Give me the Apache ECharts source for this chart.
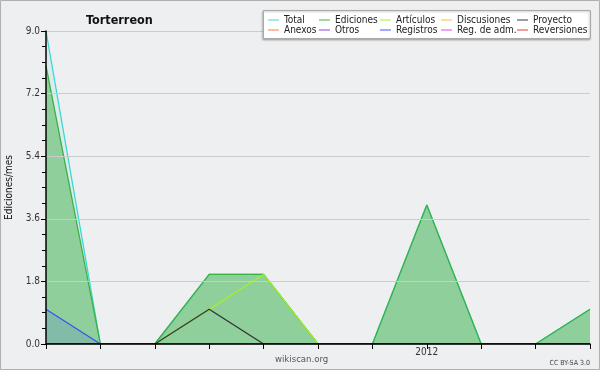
<!DOCTYPE html>
<html>
<head>
<meta charset="utf-8">
<script src="https://cdn.jsdelivr.net/npm/echarts@6/dist/echarts.min.js"></script>
<style>
  html, body { margin: 0; padding: 0; background: #eeeff1; }
  #main { width: 600px; height: 370px; }
</style>
</head>
<body>
<div id="main"></div>
<script>
// meses (categorias del eje x)
const months = ['2011-06', '2011-07', '2011-08', '2011-09', '2011-10', '2011-11',
  '2011-12', '2012-01', '2012-02', '2012-03', '2012-04']

const total = [9, 0, 0, 2, 2, 0, 0, 4, 0, 0, 1]
const ediciones = [8, 0, 0, 2, 2, 0, 0, 4, 0, 0, 1]
const articulos = [0, 0, 0, 1, 2, 0, 0, 0, 0, 0, 0]
const discusiones = [0, 0, 0, 0, 0, 0, 0, 0, 0, 0, 0]
const proyecto = [0, 0, 0, 1, 0, 0, 0, 0, 0, 0, 0]
const anexos = [0, 0, 0, 0, 0, 0, 0, 0, 0, 0, 0]
const otros = [0, 0, 0, 0, 0, 0, 0, 0, 0, 0, 0]
const registros = [1, 0, 0, 0, 0, 0, 0, 0, 0, 0, 0]
const regAdm = [0, 0, 0, 0, 0, 0, 0, 0, 0, 0, 0]
const reversiones = [0, 0, 0, 0, 0, 0, 0, 0, 0, 0, 0]

const yTicks = [0, 1.8, 3.6, 5.4, 7.2, 9.0]

// leyenda en columnas (arriba / abajo)
const legendCols = [
  ['Total', 'Anexos'],
  ['Ediciones', 'Otros'],
  ['Artículos', 'Registros'],
  ['Discusiones', 'Reg. de adm.'],
  ['Proyecto', 'Reversiones'],
]
const legendLeft = [268, 319, 380, 441, 517]

const font = '"DejaVu Sans Condensed", "DejaVu Sans", sans-serif'

const myChart = echarts.init(document.getElementById('main'))

const mkLine = (name, data, color, area) => ({
  name: name,
  type: 'line',
  data: data,
  showSymbol: false,
  symbol: 'none',
  color: color,
  itemStyle: { color: color },
  lineStyle: { color: color, width: 1.3 },
  areaStyle: area ? { color: color, opacity: area } : undefined,
})

const mkLegend = (names, left) => ({
  top: 15,
  left: left,
  orient: 'vertical',
  icon: 'rect',
  itemWidth: 11,
  itemHeight: 1.2,
  itemGap: 0,
  padding: 0,
  z: 12,
  itemStyle: { opacity: 0.8 },
  textStyle: { fontFamily: font, fontSize: 10, color: '#222' },
  data: names,
})

const option = {
  backgroundColor: '#eeeff1',
  animation: false,
  title: {
    text: 'Torterreon',
    left: 81,
    top: 9,
    textStyle: { fontFamily: font, fontSize: 12.5, fontWeight: 'bold', color: '#111' },
  },
  legend: legendCols.map((c, i) => mkLegend(c, legendLeft[i])),
  grid: { left: 46, right: 10, top: 31, bottom: 26, outerBoundsMode: 'none', containLabel: false },
  xAxis: {
    type: 'category',
    data: months,
    boundaryGap: false,
    z: 6,
    axisLine: { lineStyle: { color: '#000', width: 1.5 } },
    axisTick: { show: true, interval: 0, length: 5, lineStyle: { color: '#000' } },
    axisLabel: {
      interval: 0,
      margin: 3,
      fontFamily: font,
      fontSize: 10,
      color: '#333',
      formatter: (v) => (v.endsWith('-01') ? v.slice(0, 4) : ''),
    },
    splitLine: { show: false },
  },
  yAxis: {
    type: 'value',
    min: yTicks[0],
    max: yTicks[yTicks.length - 1],
    interval: 1.8,
    z: 6,
    name: 'Ediciones/mes',
    nameLocation: 'middle',
    nameRotate: 90,
    nameGap: 31,
    nameTextStyle: { fontFamily: font, fontSize: 10, color: '#111' },
    axisLine: { show: true, lineStyle: { color: '#000', width: 1.5 } },
    axisTick: { show: true, length: 5, lineStyle: { color: '#000' } },
    minorTick: { show: true, splitNumber: 4, length: 4, lineStyle: { color: '#000' } },
    axisLabel: {
      margin: 6,
      fontFamily: font,
      fontSize: 10,
      color: '#333',
      formatter: (v) => v.toFixed(1),
    },
    splitLine: { show: true, lineStyle: { color: '#cccccc', width: 1 } },
  },
  graphic: [
    {
      type: 'rect',
      z: 10,
      shape: { x: 263.5, y: 10.5, width: 327, height: 28 },
      style: {
        fill: '#ffffff',
        stroke: '#aaaaaa',
        lineWidth: 1,
        shadowColor: 'rgba(0,0,0,0.25)',
        shadowBlur: 2,
        shadowOffsetX: -1,
        shadowOffsetY: 1,
      },
    },
    {
      type: 'text',
      z: 10,
      left: 275,
      top: 355,
      style: { text: 'wikiscan.org', fontFamily: font, fontSize: 9.5, fill: '#555' },
    },
    {
      type: 'text',
      z: 10,
      right: 10,
      top: 360,
      style: { text: 'CC BY-SA 3.0', fontFamily: font, fontSize: 7, fill: '#444' },
    },
    {
      type: 'rect',
      z: 20,
      silent: true,
      shape: { x: 0.5, y: 0.5, width: 599, height: 369 },
      style: { fill: 'none', stroke: '#b0b0b0', lineWidth: 1 },
    },
  ],
  series: [
    mkLine('Total', total, '#3ad8d0', 0.1),
    mkLine('Ediciones', ediciones, '#3cb043', 0.48),
    mkLine('Artículos', articulos, '#aaee22'),
    mkLine('Discusiones', discusiones, '#f5c22a'),
    mkLine('Anexos', anexos, '#f47a3a'),
    mkLine('Otros', otros, '#8a3ae8'),
    mkLine('Registros', registros, '#3a52f0', 0.15),
    mkLine('Reg. de adm.', regAdm, '#e040e8'),
    mkLine('Reversiones', reversiones, '#ee3030'),
    mkLine('Proyecto', proyecto, '#333333'),
  ],
}

option && myChart.setOption(option)
</script>
</body>
</html>
